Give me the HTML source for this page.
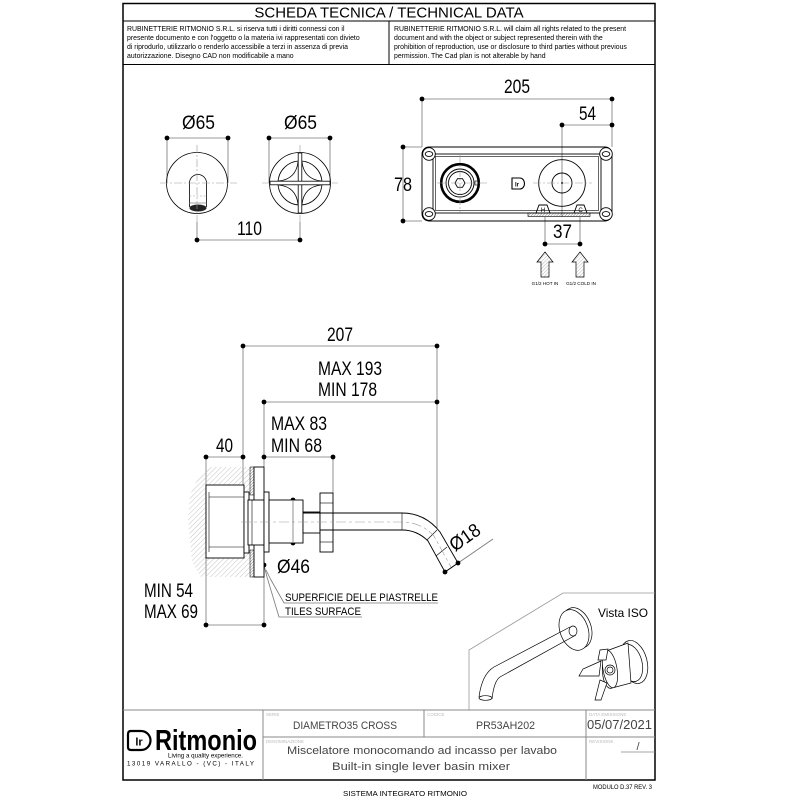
<!DOCTYPE html>
<html><head><meta charset="utf-8">
<style>
html,body{margin:0;padding:0;background:#fff;}
svg{display:block;}
text{font-family:"Liberation Sans",Arial,sans-serif;}
</style></head><body>
<svg width="800" height="800" viewBox="0 0 800 800" xmlns="http://www.w3.org/2000/svg">
<defs>
<pattern id="wh" patternUnits="userSpaceOnUse" width="3.5" height="3.5" patternTransform="rotate(45)"><line x1="0" y1="0" x2="0" y2="3.5" stroke="#aaa" stroke-width="0.7"/></pattern>
<pattern id="dh" patternUnits="userSpaceOnUse" width="2" height="2" patternTransform="rotate(45)"><line x1="0" y1="0" x2="0" y2="2" stroke="#444" stroke-width="0.7"/></pattern>
<pattern id="ah" patternUnits="userSpaceOnUse" width="2.5" height="2.5" patternTransform="rotate(45)"><line x1="0" y1="0" x2="0" y2="2.5" stroke="#888" stroke-width="0.6"/></pattern>
</defs>
<rect width="800" height="800" fill="#fff"/>

<!-- FRAME + HEADER -->
<rect x="123" y="3.5" width="532" height="776.5" fill="none" stroke="#000" stroke-width="1.5"/>
<line x1="123" y1="21" x2="655" y2="21" stroke="#000" stroke-width="1"/>
<line x1="123" y1="64.5" x2="655" y2="64.5" stroke="#000" stroke-width="1"/>
<line x1="389" y1="21" x2="389" y2="64.5" stroke="#000" stroke-width="1"/>
<text x="389" y="17.5" font-size="15" text-anchor="middle">SCHEDA TECNICA / TECHNICAL DATA</text>
<g font-size="6.9" fill="#000">
<text x="127" y="31">RUBINETTERIE RITMONIO S.R.L. si riserva tutti i diritti connessi con il</text>
<text x="127" y="40">presente documento e con l'oggetto o la materia ivi rappresentati con divieto</text>
<text x="127" y="49">di riprodurlo, utilizzarlo o renderlo accessibile a terzi in assenza di previa</text>
<text x="127" y="58">autorizzazione. Disegno CAD non modificabile a mano</text>
<text x="394" y="31">RUBINETTERIE RITMONIO S.R.L. will claim all rights related to the present</text>
<text x="394" y="40">document and with the object or subject represented therein with the</text>
<text x="394" y="49">prohibition  of reproduction, use or disclosure to third parties without previous</text>
<text x="394" y="58">permission.  The Cad plan is not alterable by hand</text>
</g>

<!-- DIMENSION TEXTS -->
<g font-size="19" fill="#000" lengthAdjust="spacingAndGlyphs">
<text x="182" y="129" textLength="33" lengthAdjust="spacingAndGlyphs">Ø65</text>
<text x="284" y="129" textLength="33" lengthAdjust="spacingAndGlyphs">Ø65</text>
<text x="237" y="235" textLength="25" lengthAdjust="spacingAndGlyphs">110</text>
<text x="504" y="93" textLength="26" lengthAdjust="spacingAndGlyphs">205</text>
<text x="579" y="120" textLength="17" lengthAdjust="spacingAndGlyphs">54</text>
<text x="394" y="191" textLength="18" lengthAdjust="spacingAndGlyphs">78</text>
<text x="553" y="238" textLength="19" lengthAdjust="spacingAndGlyphs">37</text>
<text x="327" y="341" textLength="26" lengthAdjust="spacingAndGlyphs">207</text>
<text x="318" y="375" textLength="64" lengthAdjust="spacingAndGlyphs">MAX 193</text>
<text x="318" y="396" textLength="59" lengthAdjust="spacingAndGlyphs">MIN 178</text>
<text x="271" y="430" textLength="56" lengthAdjust="spacingAndGlyphs">MAX 83</text>
<text x="271" y="452" textLength="51" lengthAdjust="spacingAndGlyphs">MIN 68</text>
<text x="216" y="452" textLength="17" lengthAdjust="spacingAndGlyphs">40</text>
<text x="277" y="573" textLength="33" lengthAdjust="spacingAndGlyphs">Ø46</text>
<text x="144" y="597" textLength="49" lengthAdjust="spacingAndGlyphs">MIN 54</text>
<text x="144" y="618" textLength="54" lengthAdjust="spacingAndGlyphs">MAX 69</text>
<text x="0" y="0" transform="translate(455,552) rotate(-35)" textLength="33" lengthAdjust="spacingAndGlyphs">Ø18</text>
</g>

<!-- DIMENSION LINES -->
<g stroke="#777" stroke-width="0.8" fill="none">
<!-- front views -->
<line x1="167" y1="138" x2="228" y2="138"/>
<line x1="167" y1="138" x2="167" y2="183"/>
<line x1="228" y1="138" x2="228" y2="183"/>
<line x1="269" y1="138" x2="330" y2="138"/>
<line x1="269" y1="138" x2="269" y2="183"/>
<line x1="330" y1="138" x2="330" y2="183"/>
<line x1="197" y1="240" x2="300" y2="240"/>
<line x1="197" y1="222" x2="197" y2="240"/>
<line x1="300" y1="222" x2="300" y2="240"/>
<!-- top right -->
<line x1="422" y1="99" x2="612" y2="99"/>
<line x1="422" y1="99" x2="422" y2="147"/>
<line x1="612" y1="99" x2="612" y2="147"/>
<line x1="562" y1="125" x2="612" y2="125"/>
<line x1="562" y1="125" x2="562" y2="217"/>
<line x1="403" y1="147" x2="403" y2="221"/>
<line x1="403" y1="147" x2="422" y2="147"/>
<line x1="403" y1="221" x2="422" y2="221"/>
<line x1="545" y1="217" x2="545" y2="244"/>
<line x1="580" y1="217" x2="580" y2="244"/>
<line x1="545" y1="244" x2="580" y2="244"/>
<!-- side view -->
<line x1="243" y1="346" x2="437" y2="346"/>
<line x1="243" y1="346" x2="243" y2="485"/>
<line x1="437" y1="346" x2="437" y2="528"/>
<line x1="264" y1="402" x2="437" y2="402"/>
<line x1="264" y1="402" x2="264" y2="467"/>
<line x1="206" y1="457" x2="243" y2="457"/>
<line x1="264" y1="457" x2="333" y2="457"/>
<line x1="333" y1="457" x2="333" y2="493"/>
<line x1="206" y1="457" x2="206" y2="625"/>
<line x1="206" y1="625" x2="264" y2="625"/>
<line x1="264" y1="565" x2="264" y2="625"/>
<line x1="445" y1="572" x2="493" y2="539"/>
<!-- tiles leader -->
<polyline points="264,565 267,577 279,617 362,617"/>
<polyline points="266,570 271,580 284,603 438,603"/>
</g>

<!-- DOTS -->
<g fill="#000">
<circle cx="167" cy="138" r="2.4"/><circle cx="228" cy="138" r="2.4"/>
<circle cx="269" cy="138" r="2.4"/><circle cx="330" cy="138" r="2.4"/>
<circle cx="197" cy="240" r="2.4"/><circle cx="300" cy="240" r="2.4"/>
<circle cx="422" cy="99" r="2.4"/><circle cx="612" cy="99" r="2.4"/>
<circle cx="562" cy="125" r="2.4"/><circle cx="612" cy="125" r="2.4"/>
<circle cx="403" cy="147" r="2.4"/><circle cx="403" cy="221" r="2.4"/>
<circle cx="545" cy="244" r="2.4"/><circle cx="580" cy="244" r="2.4"/>
<circle cx="243" cy="346" r="2.4"/><circle cx="437" cy="346" r="2.4"/>
<circle cx="264" cy="402" r="2.4"/><circle cx="437" cy="402" r="2.4"/>
<circle cx="206" cy="457" r="2.4"/><circle cx="243" cy="457" r="2.4"/>
<circle cx="264" cy="457" r="2.4"/><circle cx="333" cy="457" r="2.4"/>
<circle cx="293" cy="500" r="2.4"/><circle cx="293" cy="543" r="2.4"/>
<circle cx="445" cy="572" r="2.4"/><circle cx="458" cy="563" r="2.4"/>
<circle cx="264" cy="565" r="2.4"/>
<circle cx="206" cy="625" r="2.4"/><circle cx="264" cy="625" r="2.4"/>
</g>

<!-- FRONT VIEW LEFT (spout) -->
<g fill="none" stroke="#000" stroke-width="0.8">
<circle cx="197" cy="183" r="30.5"/>
<path d="M189.5,207 L189.5,183 A8.5,8.5 0 0 1 206.5,183 L206.5,207"/>
<line x1="189.5" y1="203" x2="206.5" y2="203" stroke="#888"/>
</g>
<line x1="189.5" y1="196" x2="206.5" y2="196" stroke="#999" stroke-width="0.6" stroke-dasharray="2,1.5"/>
<ellipse cx="198" cy="208" rx="8.5" ry="3.5" fill="#222"/>
<g stroke="#999" stroke-width="0.6" stroke-dasharray="8,2,2,2">
<line x1="160" y1="183" x2="237" y2="183"/>
<line x1="197" y1="145" x2="197" y2="222"/>
<line x1="262" y1="183" x2="338" y2="183"/>
<line x1="300" y1="145" x2="300" y2="222"/>
</g>

<!-- FRONT VIEW RIGHT (cross handle) -->
<g fill="none" stroke="#000" stroke-width="0.8">
<circle cx="300" cy="183" r="30.5"/>
<circle cx="300" cy="183" r="22"/>
<path d="M302,162 Q304,179 321,181"/>
<path d="M321,185 Q304,187 302,204"/>
<path d="M298,204 Q296,187 279,185"/>
<path d="M279,181 Q296,179 298,162"/>
<rect x="298.2" y="153" width="3.6" height="60" fill="#fff"/>
<rect x="270" y="181.2" width="60" height="3.6" fill="#fff"/>
</g>

<!-- TOP RIGHT BOX -->
<g fill="none" stroke="#000" stroke-width="0.9">
<rect x="422" y="147" width="190" height="74" rx="7"/>
<rect x="433" y="154" width="168" height="59"/>
<rect x="435.5" y="156.5" width="163" height="54" stroke-width="0.6"/>
<g fill="#fff">
<circle cx="429" cy="154" r="6.3"/><circle cx="606" cy="154" r="6.3"/>
<circle cx="429" cy="214" r="6.3"/><circle cx="606" cy="214" r="6.3"/>
</g>
<ellipse cx="429" cy="154" rx="3.8" ry="2.4"/><ellipse cx="606" cy="154" rx="3.8" ry="2.4"/>
<ellipse cx="429" cy="214" rx="3.8" ry="2.4"/><ellipse cx="606" cy="214" rx="3.8" ry="2.4"/>
<!-- left knob -->
<circle cx="460" cy="183" r="18.8" stroke-width="2.6"/>
<circle cx="460" cy="183" r="14"/>
<circle cx="460" cy="183" r="11.5"/>
<polygon points="465,183 462.5,187.3 457.5,187.3 455,183 457.5,178.7 462.5,178.7"/>
<rect x="475" y="181" width="3" height="4" stroke-width="0.6"/>
<!-- logo -->
<path d="M512,178 L520,178 A4.5,5.5 0 0 1 520,189 L512,189 Z" stroke-width="1.1"/>
<!-- right knob -->
<circle cx="562" cy="183" r="23.3"/>
<circle cx="562" cy="183" r="10"/>
<path d="M536,213 L539,205 L547,205 L550,213"/>
<path d="M574,213 L577,205 L584,205 L587,213"/>
</g>
<circle cx="562" cy="183" r="1" fill="#000"/>
<text x="517" y="186.5" font-size="6" font-weight="bold" text-anchor="middle">lr</text>
<text x="543" y="212" font-size="6" text-anchor="middle">H</text>
<text x="580.5" y="212" font-size="6" text-anchor="middle">C</text>
<rect x="528" y="213" width="62" height="3.5" fill="url(#dh)" stroke="#000" stroke-width="0.6"/>
<g stroke="#999" stroke-width="0.6" stroke-dasharray="8,2,2,2">
<line x1="437" y1="183" x2="488" y2="183"/>
<line x1="460" y1="155" x2="460" y2="212"/>
<line x1="533" y1="183" x2="592" y2="183"/>
</g>
<!-- arrows -->
<g fill="url(#ah)" stroke="#000" stroke-width="0.7">
<polygon points="545,252 553,262 549,262 549,277 541,277 541,262 537,262"/>
<polygon points="580,252 588,262 584,262 584,277 576,277 576,262 572,262"/>
</g>
<text x="545" y="285" font-size="4.6" text-anchor="middle">G1/2 HOT IN</text>
<text x="581" y="285" font-size="4.6" text-anchor="middle">G1/2 COLD IN</text>

<!-- SIDE VIEW -->
<polygon points="207,467 250,467 250,577 201,577 192,562 188,520 190,495 197,480" fill="url(#wh)" stroke="none"/>
<rect x="250" y="467" width="4" height="28" fill="url(#dh)" stroke="#000" stroke-width="0.5"/>
<rect x="250" y="550" width="4" height="27" fill="url(#dh)" stroke="#000" stroke-width="0.5"/>
<g fill="#fff" stroke="#000" stroke-width="0.9">
<rect x="254" y="467" width="10" height="110"/>
<rect x="206" y="485" width="38" height="73"/>
<rect x="244" y="492" width="5" height="61"/>
<rect x="248" y="500" width="16" height="45"/>
<rect x="264" y="492" width="5" height="60"/>
<rect x="269" y="500" width="34" height="43"/>
<rect x="303" y="512" width="17" height="21"/>
<rect x="320" y="493" width="13" height="59"/>
</g>
<g stroke="#000" stroke-width="0.6" fill="none">
<line x1="209" y1="497" x2="244" y2="497"/>
<line x1="209" y1="547" x2="244" y2="547"/>
<line x1="209" y1="492" x2="209" y2="552"/>
<line x1="252" y1="500" x2="252" y2="545"/>
<line x1="320" y1="503" x2="333" y2="503"/>
<line x1="320" y1="542" x2="333" y2="542"/>
</g>
<!-- spout -->
<g fill="none" stroke="#000" stroke-width="0.9">
<path d="M303,513 L402,513 Q425,513 440,532 L458,563"/>
<path d="M320,530 L402,530 Q417,530 428,541 L445,572"/>
<line x1="445" y1="572" x2="458" y2="563"/>
<line x1="402" y1="513" x2="402" y2="530" stroke-width="0.6"/>
<line x1="437" y1="530" x2="427" y2="540" stroke-width="0.6"/>
<line x1="447" y1="547" x2="436" y2="556" stroke-width="0.6"/>
</g>
<path d="M241,522 L402,522 Q421,522 434,536 L451,567" fill="none" stroke="#999" stroke-width="0.6" stroke-dasharray="10,3,3,3"/>
<line x1="293" y1="500" x2="293" y2="543" stroke="#777" stroke-width="0.8"/>

<!-- tiles label -->
<text x="285" y="601" font-size="11" textLength="153" lengthAdjust="spacingAndGlyphs">SUPERFICIE DELLE PIASTRELLE</text>
<text x="285" y="615" font-size="11" textLength="76" lengthAdjust="spacingAndGlyphs">TILES SURFACE</text>

<!-- ISO VIEW -->
<polyline points="469,710 469,650 563,593 655,593" fill="none" stroke="#999" stroke-width="0.8"/>
<text x="598" y="617" font-size="12" textLength="50" lengthAdjust="spacingAndGlyphs">Vista ISO</text>
<g fill="#fff" stroke="#000" stroke-width="0.7">
<ellipse cx="577" cy="628" rx="14" ry="21" transform="rotate(-20 577 628)"/>
<ellipse cx="574" cy="630" rx="14" ry="21" transform="rotate(-20 574 630)"/>
<ellipse cx="573" cy="631" rx="4" ry="5"/>
</g>
<g fill="none" stroke="#000" stroke-width="0.7">
<path d="M570,627 L494,667 Q482,674 479,697"/>
<path d="M576,635 L500,677 Q494,681 492,699"/>
<ellipse cx="485.5" cy="698" rx="6.5" ry="2.3"/>
</g>
<g fill="#fff" stroke="#000" stroke-width="0.7">
<ellipse cx="634" cy="662" rx="13" ry="22" transform="rotate(-15 634 662)"/>
<ellipse cx="631" cy="663" rx="11" ry="19" transform="rotate(-15 631 663)"/>
<path d="M628,643 L609,650 A8,19 0 0 0 612,688 L631,683 Z"/>
<ellipse cx="610" cy="669" rx="7" ry="19" transform="rotate(-10 610 669)"/>
<polygon points="601,661 583,669 579,676 599,676"/>
<polygon points="598,660 600,650 608,649 606,660"/>
<polygon points="600,680 595,700 601,700 607,683"/>
<circle cx="610" cy="670" r="5"/>
<circle cx="610" cy="670" r="3"/>
</g>

<!-- TITLE BLOCK -->
<g stroke="#888" stroke-width="1" fill="none">
<line x1="123" y1="710" x2="655" y2="710"/>
<line x1="263" y1="710" x2="263" y2="780"/>
<line x1="263" y1="737" x2="655" y2="737"/>
<line x1="424" y1="710" x2="424" y2="737"/>
<line x1="586" y1="710" x2="586" y2="780"/>
<line x1="621" y1="752" x2="655" y2="752" stroke-width="0.8"/>
</g>
<g font-size="4.5" fill="#bbb">
<text x="266" y="716">SERIE</text>
<text x="427" y="716">CODICE</text>
<text x="589" y="716">DATA EMISSIONE</text>
<text x="266" y="743">DENOMINAZIONE</text>
<text x="589" y="743">REVISIONE</text>
</g>
<g fill="#444">
<text x="293" y="729" font-size="11" textLength="104" lengthAdjust="spacingAndGlyphs">DIAMETRO35 CROSS</text>
<text x="476" y="729" font-size="11" textLength="59" lengthAdjust="spacingAndGlyphs">PR53AH202</text>
<text x="587" y="729" font-size="13" textLength="65" lengthAdjust="spacingAndGlyphs">05/07/2021</text>
<text x="287" y="754" font-size="11" textLength="270" lengthAdjust="spacingAndGlyphs">Miscelatore monocomando ad incasso per lavabo</text>
<text x="332" y="770" font-size="11" textLength="178" lengthAdjust="spacingAndGlyphs">Built-in single lever basin mixer</text>
<text x="638" y="750" font-size="11" text-anchor="middle">/</text>
</g>
<!-- logo -->
<path d="M131,731 L141,731 A9.5,9.5 0 0 1 141,750 L131,750 Q128,750 128,747 L128,734 Q128,731 131,731 Z" fill="none" stroke="#000" stroke-width="2.2"/>
<text x="139" y="745.5" font-size="11" font-weight="bold" text-anchor="middle">lr</text>
<text x="155" y="750" font-size="29" font-weight="bold" textLength="102" lengthAdjust="spacingAndGlyphs">Ritmonio</text>
<text x="168" y="757.5" font-size="6" textLength="75" lengthAdjust="spacingAndGlyphs">Living a quality experience.</text>
<text x="127" y="765.5" font-size="6.2" textLength="127" lengthAdjust="spacing">13019 VARALLO - (VC) - ITALY</text>

<!-- below frame -->
<text x="343" y="796" font-size="7" textLength="124" lengthAdjust="spacingAndGlyphs">SISTEMA INTEGRATO RITMONIO</text>
<text x="593" y="789" font-size="6" textLength="59" lengthAdjust="spacingAndGlyphs">MODULO D.37 REV. 3</text>
</svg>
</body></html>
